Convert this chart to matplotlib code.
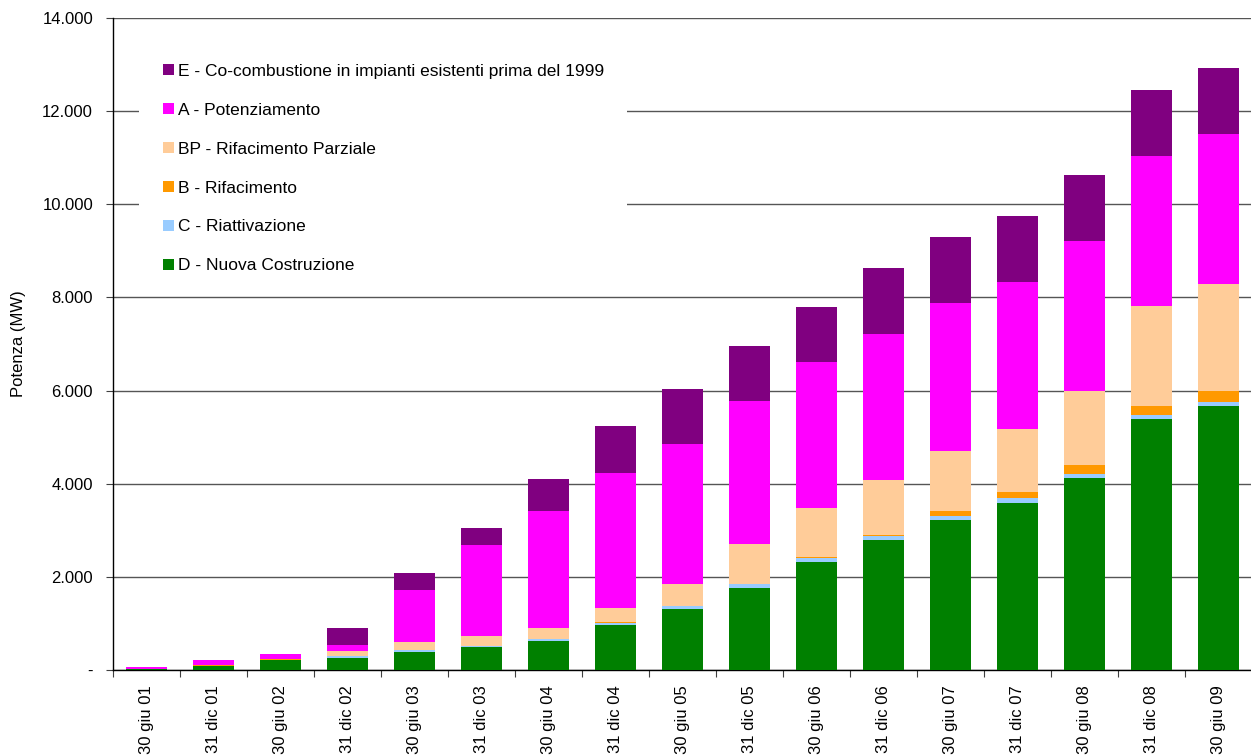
import matplotlib
matplotlib.use("Agg")
import matplotlib.pyplot as plt
from matplotlib.ticker import FuncFormatter, FixedLocator
from matplotlib.patches import Rectangle
import numpy as np

plt.rcParams['font.family'] = ['Liberation Sans', 'DejaVu Sans']

categories = ["30 giu 01", "31 dic 01", "30 giu 02", "31 dic 02", "30 giu 03",
              "31 dic 03", "30 giu 04", "31 dic 04", "30 giu 05", "31 dic 05",
              "30 giu 06", "31 dic 06", "30 giu 07", "31 dic 07", "30 giu 08",
              "31 dic 08", "30 giu 09"]

D_nuova = [30, 90, 220, 265, 390, 500, 625, 965, 1310, 1760,
           2320, 2790, 3220, 3585, 4120, 5390, 5670]
C_riatt = [0, 0, 0, 40, 45, 25, 50, 45, 65, 85,
           85, 90, 85, 110, 90, 85, 85]
B_rifac = [0, 10, 8, 0, 0, 0, 0, 30, 0, 0,
           30, 15, 110, 130, 190, 190, 235]
BP_parz = [0, 0, 8, 100, 170, 210, 230, 295, 470, 860,
           1050, 1180, 1290, 1350, 1590, 2150, 2300]
A_pot = [40, 115, 110, 130, 1120, 1950, 2510, 2900, 3010, 3070,
         3130, 3135, 3180, 3155, 3220, 3220, 3220]
E_cocomb = [0, 0, 0, 365, 360, 370, 690, 1010, 1180, 1180,
            1180, 1420, 1420, 1420, 1420, 1420, 1420]

series = [
    ("D - Nuova Costruzione", D_nuova, "#008000"),
    ("C - Riattivazione", C_riatt, "#99CCFF"),
    ("B - Rifacimento", B_rifac, "#FF9900"),
    ("BP - Rifacimento Parziale", BP_parz, "#FFCC99"),
    ("A - Potenziamento", A_pot, "#FF00FF"),
    ("E - Co-combustione in impianti esistenti prima del 1999", E_cocomb, "#800080"),
]

fig = plt.figure(figsize=(12.51, 7.56), dpi=100)
ax = fig.add_axes([113 / 1251, (756 - 670) / 756, 1139 / 1251, 652 / 756])

x = np.arange(len(categories))
bottom = np.zeros(len(categories))
handles = []
for name, vals, col in series:
    v = np.array(vals, dtype=float)
    b = ax.bar(x, v, width=0.6, bottom=bottom, color=col, label=name, zorder=3, linewidth=0)
    handles.append(b)
    bottom += v

ax.set_xlim(-0.5, len(categories) - 0.5)
ax.set_ylim(0, 14000)
ax.set_yticks(np.arange(0, 14001, 2000))

def fmt(v, pos):
    if v == 0:
        return "-"
    return f"{int(v):,}".replace(",", ".")

ax.yaxis.set_major_formatter(FuncFormatter(fmt))
ax.grid(axis='y', color='#555555', linewidth=1.0, zorder=0)
ax.set_axisbelow(True)

ax.set_xticks(x)
ax.set_xticklabels(categories, rotation=90, fontsize=12)
ax.tick_params(axis='x', which='major', length=0, pad=10.8)
ax.xaxis.set_minor_locator(FixedLocator(np.arange(-0.5, len(categories), 1.0)))
ax.tick_params(axis='x', which='minor', length=5, width=0.8, color='#404040', direction='out')
ax.tick_params(axis='y', length=5, width=0.8, color='#404040', direction='out', labelsize=12, pad=9.4)

for s in ['top', 'right']:
    ax.spines[s].set_visible(False)
ax.spines['left'].set_color('black')
ax.spines['left'].set_linewidth(1.0)
ax.spines['bottom'].set_color('black')
ax.spines['bottom'].set_linewidth(1.0)

ax.set_ylabel("Potenza (MW)", fontsize=12, labelpad=11.5)

# white background area of the legend (covers gridlines)
ax.add_patch(Rectangle((0.0228, 0.5828), 0.4285, 0.3758, transform=ax.transAxes,
                       facecolor='white', edgecolor='none', zorder=1))

leg = ax.legend(handles[::-1], [s[0] for s in series][::-1],
                loc='upper left', bbox_to_anchor=(0.0286, 0.9566),
                fontsize=12.5, frameon=False,
                handlelength=0.63, handleheight=0.63, handletextpad=0.22,
                labelspacing=1.38, borderpad=0.5)
leg.set_zorder(5)

fig.savefig("out.png", dpi=100)
